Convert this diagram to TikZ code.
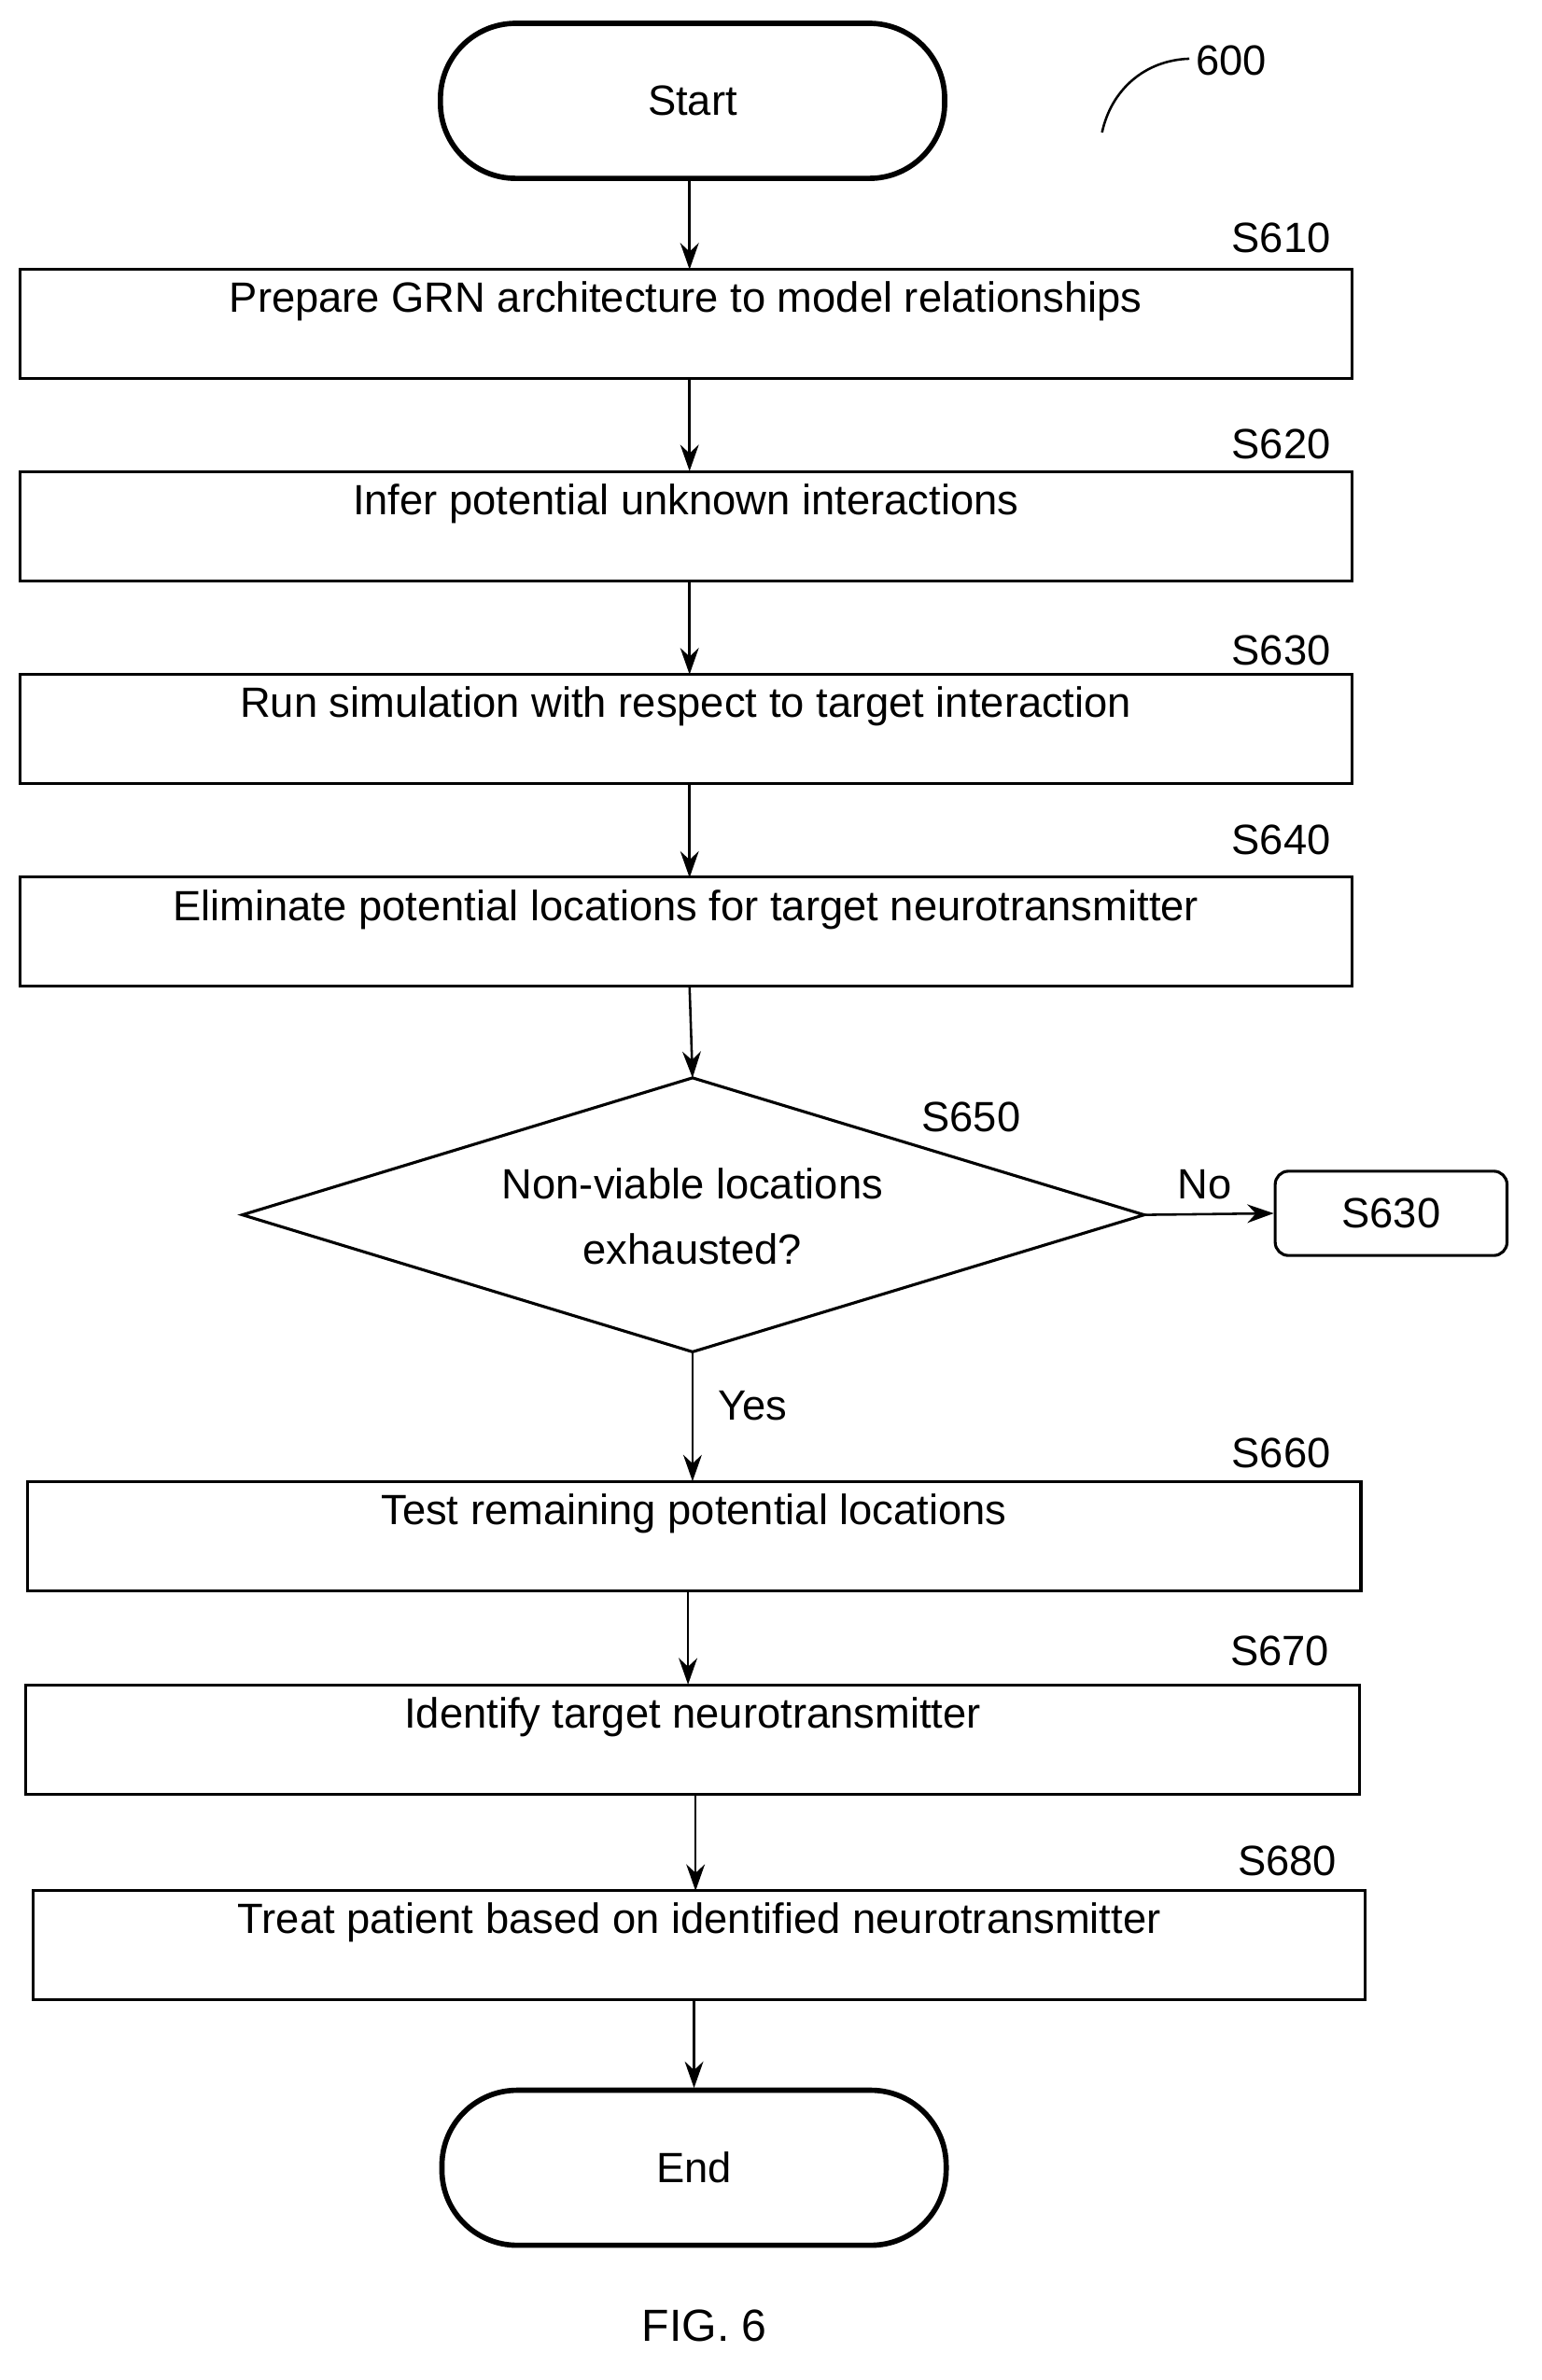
\documentclass[tikz,border=0pt]{standalone}
\usepackage{fontspec}
\setmainfont{Liberation Sans}
\usetikzlibrary{shapes.geometric,arrows.meta}
\begin{document}
\begin{tikzpicture}[x=0.02cm,y=-0.02cm,
  font=\fontsize{16}{19}\selectfont,
  box/.style={draw,line width=1.1pt,inner sep=0pt,minimum height=1.45cm,text depth=0.6cm,text height=0.3cm},
  term/.style={draw,line width=2pt,rounded corners=1cm,inner sep=0pt,minimum width=6.7cm,minimum height=2.06cm},
  lab/.style={inner sep=0pt},
  arr/.style={line width=0.9pt,-{Stealth[length=10pt,width=7pt]}}]
\useasboundingbox (0,0) rectangle (1024,1581);
\node[term] (start) at (460,67) {Start};
\node[lab] (l600) at (818,40) {600};
\draw[line width=0.9pt] (732,88) .. controls (738,60) and (760,40) .. (790,39);
\node[box,minimum width=17.7cm] (s610) at (455.5,215) {Prepare GRN architecture to model relationships};
\node[lab] at (851,158) {S610};
\node[box,minimum width=17.7cm] (s620) at (455.5,349.5) {Infer potential unknown interactions};
\node[lab] at (851,295) {S620};
\node[box,minimum width=17.7cm] (s630) at (455.5,484) {Run simulation with respect to target interaction};
\node[lab] at (851,432) {S630};
\node[box,minimum width=17.7cm] (s640) at (455.5,619) {Eliminate potential locations for target neurotransmitter};
\node[lab] at (851,558) {S640};
\coordinate (dN) at (460,716);
\coordinate (dE) at (760,807);
\coordinate (dS) at (460,898);
\coordinate (dW) at (161,807);
\draw[line width=1.1pt,line join=miter] (dN) -- (dE) -- (dS) -- (dW) -- cycle;
\node[align=center,inner sep=0pt] (d) at (460,808) {Non-viable locations\\[6pt]exhausted?};
\node[lab] at (645,742) {S650};
\node[draw,line width=1.1pt,rounded corners=5pt,minimum width=3.08cm,minimum height=1.12cm,inner sep=0pt] (no) at (924,806) {S630};
\node[lab] at (800,787) {No};
\node[lab] at (500,934) {Yes};
\node[box,minimum width=17.72cm] (s660) at (461,1020.5) {Test remaining potential locations};
\node[lab] at (851,965) {S660};
\node[box,minimum width=17.72cm] (s670) at (460,1155.5) {Identify target neurotransmitter};
\node[lab] at (850,1097) {S670};
\node[box,minimum width=17.7cm] (s680) at (464.5,1292) {Treat patient based on identified neurotransmitter};
\node[lab] at (855,1236) {S680};
\node[term] (end) at (461,1440) {End};
\node[lab,font=\fontsize{17}{20}\selectfont] at (468,1545) {FIG. 6};
\draw[arr] (458,118) -- (458,179);
\draw[arr] (458,251) -- (458,313);
\draw[arr] (458,386) -- (458,448);
\draw[arr] (458,520) -- (458,583);
\draw[arr] (458,655) -- (dN);
\draw[arr] (dE) -- (no.west);
\draw[arr] (dS) -- (460,984);
\draw[arr] (457,1057) -- (457,1119);
\draw[arr] (462,1192) -- (462,1256);
\draw[arr] (461,1328) -- (461,1387);
\end{tikzpicture}
\end{document}
